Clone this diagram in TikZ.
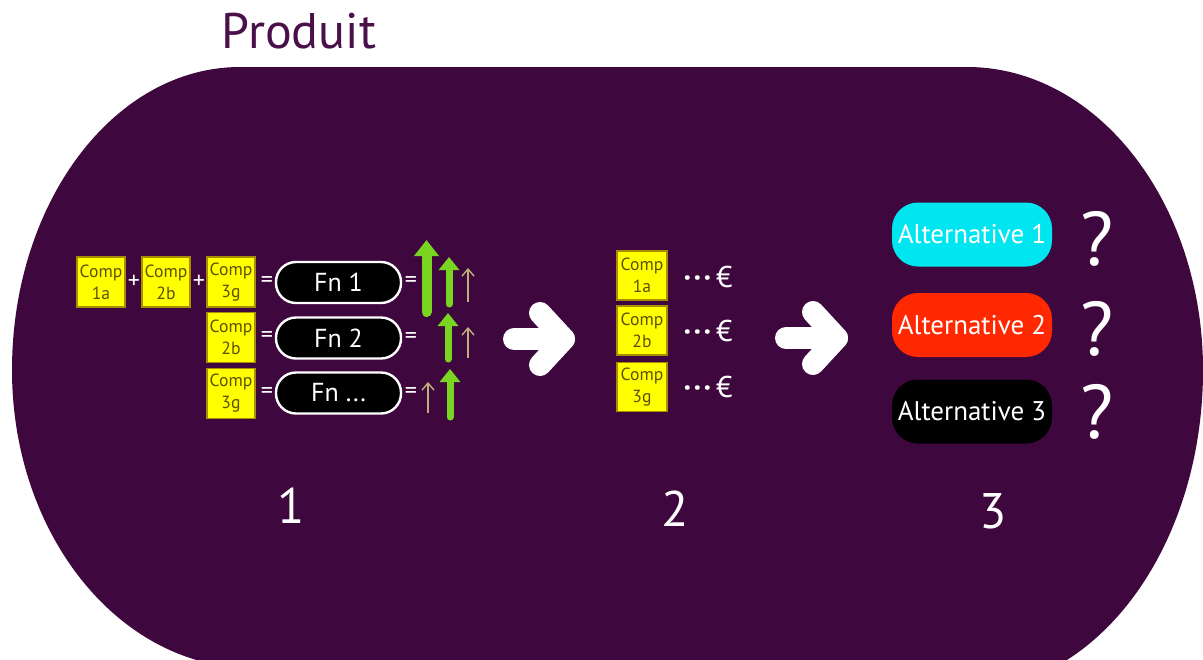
\documentclass[tikz,border=0pt]{standalone}
\usepackage{fontspec}
\setmainfont{PT Sans}
\usetikzlibrary{arrows.meta,calc}
\definecolor{bgpurple}{RGB}{62,8,62}
\definecolor{titlepurple}{RGB}{74,16,74}
\definecolor{compyellow}{RGB}{255,255,0}
\definecolor{compedge}{RGB}{170,140,0}
\definecolor{comptext}{RGB}{95,80,0}
\definecolor{altcyan}{RGB}{0,230,240}
\definecolor{altred}{RGB}{255,40,0}
\definecolor{limegreen}{RGB}{122,212,34}
\definecolor{tanarrow}{RGB}{190,175,120}
\tikzset{
  compbox/.style={fill=compyellow, draw=compedge, line width=0.6pt, minimum width=24pt, minimum height=25pt, inner sep=0pt, align=center, text=comptext, font=\fontsize{8.8}{11}\selectfont},
  fnpill/.style={draw=white, line width=1.2pt, fill=black, text=white, rounded corners=10pt, minimum width=62.5pt, minimum height=20.5pt, inner sep=0pt, font=\fontsize{13}{15}\selectfont},
  altpill/.style={text=white, rounded corners=13pt, minimum width=80pt, minimum height=32pt, inner sep=0pt, font=\fontsize{13.5}{16}\selectfont},
  opsign/.style={text=white, inner sep=0pt, font=\fontsize{12}{14}\selectfont},
  eurotxt/.style={text=white, inner sep=0pt, font=\fontsize{15}{17}\selectfont},
  bignum/.style={text=white, inner sep=0pt, anchor=base, font=\fontsize{25}{30}\selectfont},
  qmark/.style={text=white, inner sep=0pt, anchor=base, font=\fontsize{38}{44}\selectfont},
  bigup/.style={draw=limegreen, line width=5pt, line cap=round, -{Triangle[width=12pt,length=8pt]}},
  midup/.style={draw=limegreen, line width=3.5pt, line cap=round, -{Triangle[width=10pt,length=6.5pt]}},
  thinup/.style={draw=tanarrow, line width=0.7pt, -{Straight Barb[width=6pt,length=3.5pt]}},
  warrow/.style={draw=white, line width=11pt, line cap=round, line join=round}
}
\newcommand{\eurodots}{\textbf{·}\kern1.2pt\textbf{·}\kern1.2pt\textbf{·}\kern2.5pt€}
\begin{document}
\begin{tikzpicture}[x=0.5pt,y=-0.5pt]
\useasboundingbox (0,0) rectangle (1203,659);
\fill[white] (0,0) rectangle (1203,659);
\begin{scope}
\clip (0,0) rectangle (1203,659);
% big rounded background
\fill[bgpurple] (240,67) -- (967,67)
  .. controls (1097.3,67) and (1203,202.7) .. (1203,370)
  .. controls (1203,546.7) and (1097.3,690) .. (967,690)
  -- (252,668)
  .. controls (119.4,668) and (12,534.6) .. (12,370)
  .. controls (12,202.7) and (114.1,67) .. (240,67) -- cycle;
\end{scope}

% title
\node[text=titlepurple, inner sep=0pt, anchor=base, font=\fontsize{25}{30}\selectfont] (title) at (299,48) {Produit};

% ---- section 1 ----
\node[compbox] (c1a) at (101,282) {Comp\\1a};
\node[opsign] (p1) at (134,282) {+};
\node[compbox] (c2b) at (166,282) {Comp\\2b};
\node[opsign] (p2) at (199,282) {+};
\node[compbox] (c3g) at (231,282) {Comp\\3g};
\node[opsign] (e1) at (267,282) {=};
\node[fnpill] (fn1) at (338.5,282.5) {Fn 1};
\node[opsign] (e2) at (411,282) {=};

\node[compbox] (r2c) at (231,337.5) {Comp\\2b};
\node[opsign] (e3) at (267,337) {=};
\node[fnpill] (fn2) at (338.5,338) {Fn 2};
\node[opsign] (e4) at (411,338) {=};

\node[compbox] (r3c) at (231,393.5) {Comp\\3g};
\node[opsign] (e5) at (267,393) {=};
\node[fnpill] (fn3) at (338.5,393) {Fn ...};
\node[opsign] (e6) at (411,393) {=};

% up arrows
\draw[bigup] (426.5,312) -- (426.5,240);
\draw[midup] (449,304) -- (449,257);
\draw[thinup] (468,302) -- (468,268);
\draw[midup] (448,359) -- (448,313);
\draw[thinup] (468,358) -- (468,327);
\draw[thinup] (428,413) -- (428,382);
\draw[midup] (450,417) -- (450,369);

\node[bignum] (n1) at (291,523) {1};

% white arrow 1
\coordinate (w1s) at (514,339);
\coordinate (w1e) at (564,339);
\draw[warrow] (w1s) -- (w1e);
\draw[warrow] ($(w1e)+(-24,-26)$) -- (w1e) -- ($(w1e)+(-24,26)$);

% ---- section 2 ----
\node[compbox, minimum width=25pt, minimum height=24.5pt] (m1) at (642,275.5) {Comp\\1a};
\node[compbox, minimum width=25pt, minimum height=24.5pt] (m2) at (642,330.5) {Comp\\2b};
\node[compbox, minimum width=25pt, minimum height=24.5pt] (m3) at (642,387) {Comp\\3g};
\node[eurotxt] (eu1) at (708,277) {\eurodots};
\node[eurotxt] (eu2) at (708,331) {\eurodots};
\node[eurotxt] (eu3) at (708,387) {\eurodots};

\node[bignum] (n2) at (675,526) {2};

% white arrow 2
\coordinate (w2s) at (786,338);
\coordinate (w2e) at (837,338);
\draw[warrow] (w2s) -- (w2e);
\draw[warrow] ($(w2e)+(-24,-26)$) -- (w2e) -- ($(w2e)+(-24,26)$);

% ---- section 3 ----
\node[altpill, fill=altcyan] (a1) at (972,234.5) {Alternative 1};
\node[altpill, fill=altred] (a2) at (972,325) {Alternative 2};
\node[altpill, fill=black] (a3) at (972,411.5) {Alternative 3};
\node[qmark] (q1) at (1097,265) {?};
\node[qmark] (q2) at (1097,355) {?};
\node[qmark] (q3) at (1097,438) {?};

\node[bignum] (n3) at (993,528) {3};
\end{tikzpicture}
\end{document}
